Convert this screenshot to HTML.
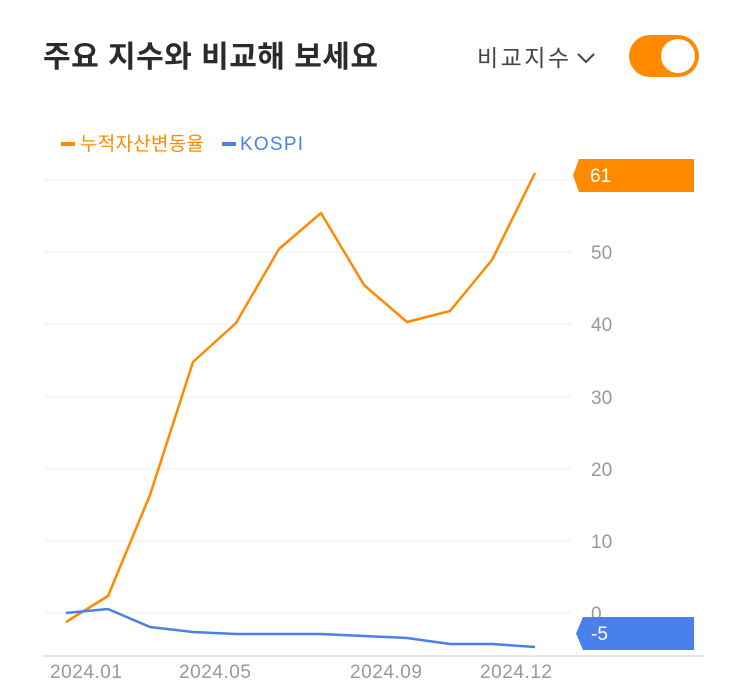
<!DOCTYPE html>
<html><head><meta charset="utf-8"><style>
html,body{margin:0;padding:0;background:#fff;width:743px;height:700px;overflow:hidden}
svg{display:block}
text{font-family:"Liberation Sans","Noto Sans CJK KR",sans-serif}
</style></head><body>
<svg width="743" height="700" viewBox="0 0 743 700">
<text x="43" y="67" font-size="30" font-weight="bold" fill="#2b2b2b" textLength="335">주요 지수와 비교해 보세요</text>
<text x="477" y="66" font-size="23" fill="#444" textLength="92">비교지수</text>
<polyline points="578,54 586,62 594,54" fill="none" stroke="#444" stroke-width="2"/>
<rect x="629" y="35" width="70" height="42" rx="21" fill="#ff8a00"/>
<circle cx="678" cy="56" r="17" fill="#fff"/>
<rect x="61" y="142" width="14" height="4" fill="#ff8a00"/>
<text x="80" y="150" font-size="19" fill="#ff8a00" textLength="124">누적자산변동율</text>
<rect x="222" y="142" width="14" height="4" fill="#4a80ea"/>
<text x="240" y="150" font-size="19" fill="#4a80ea" textLength="63">KOSPI</text>
<g stroke="#eeeeee" stroke-width="1">
<line x1="44" x2="572" y1="180" y2="180"/>
<line x1="44" x2="572" y1="252" y2="252"/>
<line x1="44" x2="572" y1="324" y2="324"/>
<line x1="44" x2="572" y1="397" y2="397"/>
<line x1="44" x2="572" y1="469" y2="469"/>
<line x1="44" x2="572" y1="541" y2="541"/>
<line x1="44" x2="572" y1="613" y2="613"/>
</g>
<line x1="42" x2="704" y1="656" y2="656" stroke="#dddddd" stroke-width="1.5"/>
<g font-size="19" fill="#999">
<text x="591" y="259">50</text>
<text x="591" y="331">40</text>
<text x="591" y="404">30</text>
<text x="591" y="476">20</text>
<text x="591" y="548">10</text>
<text x="591" y="620">0</text>
<text x="86" y="678" text-anchor="middle" textLength="72">2024.01</text>
<text x="215" y="678" text-anchor="middle" textLength="72">2024.05</text>
<text x="386" y="678" text-anchor="middle" textLength="72">2024.09</text>
<text x="516" y="678" text-anchor="middle" textLength="72">2024.12</text>
</g>
<polyline fill="none" stroke="#ff8a00" stroke-width="2.5" stroke-linejoin="round" points="66,622 108,596 150,495 193,362 236,323 279,249 321,213 364,285 407,322 450,311 492,260 535,173"/>
<polyline fill="none" stroke="#4a80ea" stroke-width="2.5" stroke-linejoin="round" points="66,613 108,609 150,627 193,632 236,634 279,634 321,634 364,636 407,638 450,644 492,644 535,647"/>
<polygon points="579,159 694,159 694,192 579,192 573,175.5" fill="#ff8a00"/>
<text x="590" y="182" font-size="19" fill="#fff">61</text>
<polygon points="583,617 694,617 694,650 583,650 576,633.5" fill="#4a80ea"/>
<text x="591" y="640" font-size="19" fill="#fff">-5</text>
</svg>
</body></html>
